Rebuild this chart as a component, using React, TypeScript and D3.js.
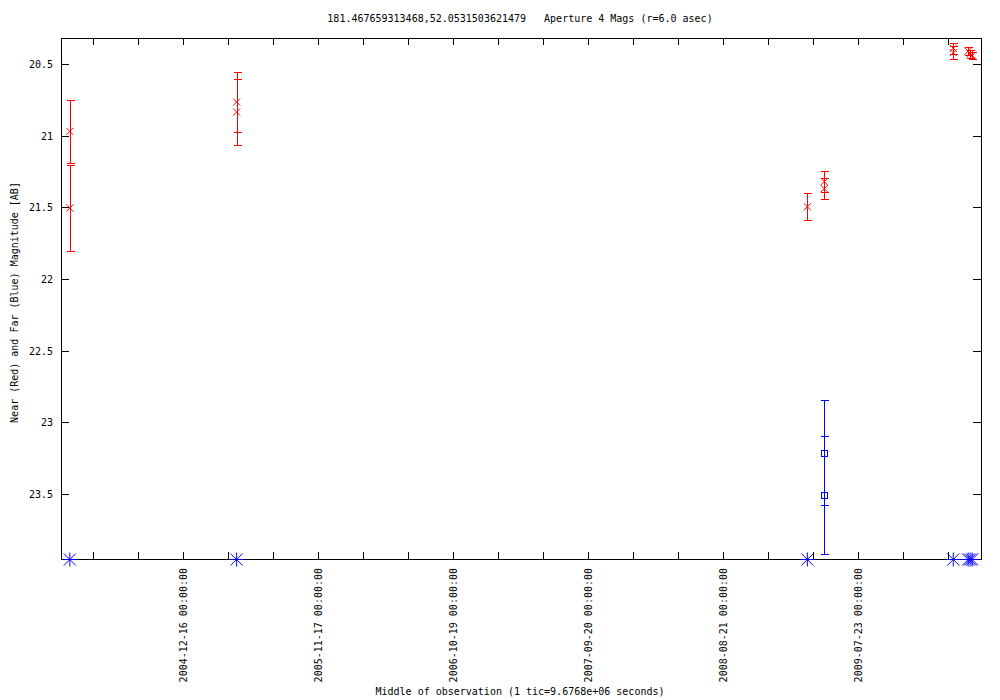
import React, { useEffect, useRef } from 'react';
import * as d3 from 'd3';

// Near (red) photometry
const nearDates = ['2004-03-09', '2004-03-09', '2005-04-28', '2005-04-28', '2009-03-18', '2009-04-29', '2009-04-29', '2010-03-16', '2010-03-16', '2010-04-22', '2010-04-27', '2010-05-02'];
const nearMags = [20.97, 21.505, 20.765, 20.835, 21.496, 21.32, 21.37, 20.39, 20.42, 20.41, 20.43, 20.44];
const nearErrs = [0.22, 0.3, 0.21, 0.23, 0.094, 0.072, 0.075, 0.04, 0.045, 0.03, 0.03, 0.025];

// Far (blue) photometry
const farDates = ['2009-04-29', '2009-04-29'];
const farMags = [23.212, 23.508];
const farErrs = [0.364, 0.41];

// Far (blue) points with no detection, drawn on the lower border
const farLimitDates = ['2004-03-09', '2005-04-28', '2009-03-18', '2010-03-16', '2010-04-22', '2010-04-27', '2010-05-02'];

const xDomain = ['2004-02-16', '2010-05-24'];
const yDomain = [20.318, 23.955];
const yTicks = [20.5, 21, 21.5, 22, 22.5, 23, 23.5];
const tickStart = '2004-12-16';
const tickDays = 112; // 9.6768e6 seconds
const labelEvery = 3;

const title = '181.467659313468,52.0531503621479   Aperture 4 Mags (r=6.0 asec)';
const yLabel = 'Near (Red) and Far (Blue) Magnitude [AB]';
const xLabel = 'Middle of observation (1 tic=9.6768e+06 seconds)';

const parse = d3.utcParse('%Y-%m-%d');

export default function App() {
    const svgRef = useRef<SVGSVGElement>(null);

    useEffect(() => {
        if (!svgRef.current) return;
        const width = 1000;
        const height = 700;
        const margin = { top: 38, right: 19, bottom: 141, left: 61 };
        const font = '"DejaVu Sans Mono", monospace';
        const fs = '10px';

        const svg = d3.select(svgRef.current)
            .attr('width', width)
            .attr('height', height)
            .style('background', '#fff');
        svg.selectAll('*').remove();

        const x = d3.scaleUtc()
            .domain(xDomain.map(d => parse(d) as Date))
            .range([margin.left, width - margin.right]);
        const y = d3.scaleLinear()
            .domain(yDomain)
            .range([margin.top, height - margin.bottom]);

        const x0 = margin.left, x1 = width - margin.right;
        const y0 = margin.top, y1 = height - margin.bottom;
        const px = (v: number) => Math.round(v) + 0.5;

        const g = svg.append('g').attr('shape-rendering', 'crispEdges');

        // x ticks every 112 days, both directions from the anchor
        const anchor = parse(tickStart) as Date;
        const ticks: { d: Date; i: number }[] = [];
        for (let i = -5; i <= 20; i++) {
            const d = d3.utcDay.offset(anchor, i * tickDays);
            const xv = x(d);
            if (xv > x0 + 1 && xv < x1 - 1) ticks.push({ d, i });
        }
        ticks.forEach(t => {
            const xv = px(x(t.d));
            g.append('line').attr('x1', xv).attr('x2', xv).attr('y1', y1).attr('y2', y1 - 7).attr('stroke', '#000');
            g.append('line').attr('x1', xv).attr('x2', xv).attr('y1', y0).attr('y2', y0 + 7).attr('stroke', '#000');
            if (((t.i % labelEvery) + labelEvery) % labelEvery === 0) {
                svg.append('text')
                    .attr('transform', `translate(${Math.round(x(t.d)) + 4},${y1 + 9}) rotate(-90)`)
                    .attr('text-anchor', 'end')
                    .attr('font-family', font)
                    .attr('font-size', fs)
                    .text(d3.utcFormat('%Y-%m-%d 00:00:00')(t.d));
            }
        });

        // y ticks
        yTicks.forEach(t => {
            const yv = px(y(t));
            g.append('line').attr('x1', x0).attr('x2', x0 + 8).attr('y1', yv).attr('y2', yv).attr('stroke', '#000');
            g.append('line').attr('x1', x1).attr('x2', x1 - 8).attr('y1', yv).attr('y2', yv).attr('stroke', '#000');
            svg.append('text')
                .attr('x', x0 - 8)
                .attr('y', y(t) + 4)
                .attr('text-anchor', 'end')
                .attr('font-family', font)
                .attr('font-size', fs)
                .text(String(t));
        });

        // frame
        g.append('rect')
            .attr('x', x0 + 0.5).attr('y', y0 + 0.5)
            .attr('width', x1 - x0).attr('height', y1 - y0)
            .attr('fill', 'none').attr('stroke', '#000');

        const errBar = (sel: d3.Selection<SVGGElement, unknown, null, undefined>, cx: number, m: number, e: number, color: string) => {
            const xa = px(cx);
            const ya = y(m - e), yb = Math.min(y(m + e), y1);
            sel.append('line').attr('x1', xa).attr('x2', xa).attr('y1', ya).attr('y2', yb).attr('stroke', color);
            [ya, yb].forEach(v => {
                sel.append('line').attr('x1', xa - 4).attr('x2', xa + 4).attr('y1', px(v)).attr('y2', px(v)).attr('stroke', color);
            });
        };

        // near points
        const red = '#ff0000';
        const nearG = g.append('g');
        nearDates.forEach((d, i) => {
            const cx = x(parse(d) as Date);
            errBar(nearG, cx, nearMags[i], nearErrs[i], red);
            const cy = y(nearMags[i]);
            const s = 3.5;
            nearG.append('path')
                .attr('d', `M${cx - s},${cy - s}L${cx + s},${cy + s}M${cx - s},${cy + s}L${cx + s},${cy - s}`)
                .attr('stroke', red).attr('fill', 'none').attr('shape-rendering', 'auto');
        });

        // far points
        const blue = '#0000ff';
        const farG = g.append('g');
        farDates.forEach((d, i) => {
            const cx = x(parse(d) as Date);
            errBar(farG, cx, farMags[i], farErrs[i], blue);
            const cy = y(farMags[i]);
            farG.append('rect')
                .attr('x', px(cx) - 3).attr('y', px(cy) - 3)
                .attr('width', 6).attr('height', 6)
                .attr('fill', 'none').attr('stroke', blue);
        });

        // far non-detections on the border
        farLimitDates.forEach(d => {
            const cx = x(parse(d) as Date);
            const cy = y1 + 0.5;
            const s = 6;
            farG.append('path')
                .attr('d', `M${cx - s},${cy - s}L${cx + s},${cy + s}M${cx - s},${cy + s}L${cx + s},${cy - s}M${cx - s - 1},${cy}L${cx + s + 1},${cy}M${cx},${cy - s - 1}L${cx},${cy + s + 1}`)
                .attr('stroke', blue).attr('fill', 'none').attr('shape-rendering', 'auto');
        });

        // titles
        svg.append('text')
            .attr('x', 520).attr('y', 22)
            .attr('text-anchor', 'middle')
            .attr('font-family', font).attr('font-size', fs)
            .style('white-space', 'pre')
            .text(title);
        svg.append('text')
            .attr('transform', `translate(18,${(y0 + y1) / 2 + 4}) rotate(-90)`)
            .attr('text-anchor', 'middle')
            .attr('font-family', font).attr('font-size', fs)
            .text(yLabel);
        svg.append('text')
            .attr('x', 520).attr('y', 695)
            .attr('text-anchor', 'middle')
            .attr('font-family', font).attr('font-size', fs)
            .text(xLabel);
    }, []);

    return (
        <svg ref={svgRef} style={{ position: 'absolute', left: 0, top: 0, display: 'block' }}></svg>
    );
}
